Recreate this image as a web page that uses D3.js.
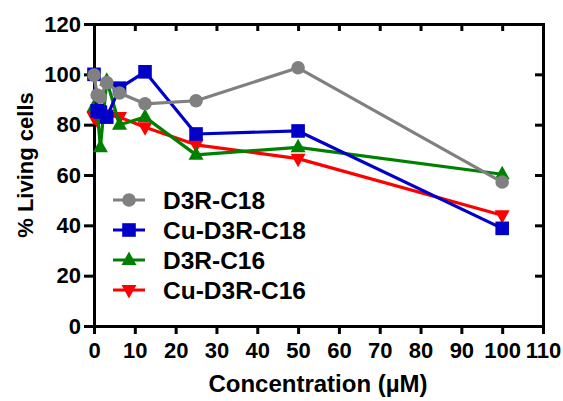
<!DOCTYPE html>
<html lang="en">
<head>
    <title>Living cells vs concentration</title>
    <script src="https://d3js.org/d3.v7.min.js"></script>
    <style>
        body { margin: 0; background: #fff; }
        text { font-family: "Liberation Sans", Arial, sans-serif; font-weight: bold; }
    </style>
</head>
<body>
    <svg width=563 height=401></svg>
</body>
    <script>
    // concentrations (uM)
    const conc = [0, 0.78, 1.56, 3.125, 6.25, 12.5, 25, 50, 100];
    const d3r_c18 = [99.7, 91.8, 90.9, 96.7, 92.6, 88.3, 89.5, 102.6, 57.2];
    const cu_d3r_c18 = [100, 85.5, 85, 83, 94.5, 101, 76.3, 77.5, 38.8];
    const d3r_c16 = [87, 86, 71, 97.5, 80, 83, 68, 71, 60.3];
    const cu_d3r_c16 = [83, 82, 84, 84, 83, 79, 72, 66.5, 44];
    const seriesNames = ["D3R-C18", "Cu-D3R-C18", "D3R-C16", "Cu-D3R-C16"];
    const xTicks = [0, 10, 20, 30, 40, 50, 60, 70, 80, 90, 100, 110];
    const yTicks = [0, 20, 40, 60, 80, 100, 120];

    const colors = ["#808080", "#0000c8", "#008000", "#ff0000"];
    const symbols = ["circle", "square", "up", "down"];
    const series = [d3r_c18, cu_d3r_c18, d3r_c16, cu_d3r_c16].map((vals, i) => ({
        name: seriesNames[i], color: colors[i], sym: symbols[i],
        points: conc.map((c, j) => ({x: c, y: vals[j]}))
    }));

    const svg = d3.select("svg");
    const x = d3.scaleLinear().domain([0, 110]).range([94, 543]);
    const y = d3.scaleLinear().domain([0, 120]).range([326, 24]);

    function styleAxis(g) {
        g.selectAll("path.domain").attr("stroke-width", 3).attr("stroke-linecap", "square");
        g.selectAll(".tick line").attr("stroke-width", 3);
        g.selectAll(".tick text").attr("font-size", 22).attr("fill", "#000");
    }

    // frame (top and right, ticks inward)
    svg.append("g").attr("transform", "translate(0,24)")
        .call(d3.axisTop(x).tickValues(xTicks).tickSize(-7).tickSizeOuter(0).tickFormat(""))
        .call(styleAxis);
    svg.append("g").attr("transform", "translate(543,0)")
        .call(d3.axisRight(y).tickValues(yTicks).tickSize(-8).tickSizeOuter(0).tickFormat(""))
        .call(styleAxis);

    svg.append("g").attr("transform", "translate(0,326)")
        .call(d3.axisBottom(x).tickValues(xTicks).tickSize(8).tickPadding(8).tickSizeOuter(0))
        .call(styleAxis);
    svg.append("g").attr("transform", "translate(94,0)")
        .call(d3.axisLeft(y).tickValues(yTicks).tickSize(10).tickPadding(3).tickSizeOuter(0))
        .call(styleAxis);

    svg.append("text").attr("x", 318).attr("y", 392).attr("text-anchor", "middle")
        .attr("font-size", 24).text("Concentration (µM)");
    svg.append("text").attr("transform", "translate(33,165) rotate(-90)")
        .attr("text-anchor", "middle").attr("font-size", 22).text("% Living cells");

    function marker(sel, sym, color) {
        if (sym === "circle") {
            sel.append("circle").attr("r", 6.8).attr("fill", color);
        } else if (sym === "square") {
            sel.append("rect").attr("x", -6.8).attr("y", -6.8).attr("width", 13.6).attr("height", 13.6).attr("fill", color);
        } else if (sym === "up") {
            sel.append("path").attr("d", "M0,-8.5L7.5,5L-7.5,5Z").attr("fill", color);
        } else {
            sel.append("path").attr("d", "M0,8.5L7.5,-5L-7.5,-5Z").attr("fill", color);
        }
    }

    const line = d3.line().x(d => x(d.x)).y(d => y(d.y));
    // draw last series first so grey ends on top
    series.slice().reverse().forEach(s => {
        svg.append("path").datum(s.points).attr("d", line)
            .attr("fill", "none").attr("stroke", s.color).attr("stroke-width", 3.2)
            .attr("stroke-linejoin", "round");
        svg.selectAll(null).data(s.points).join("g")
            .attr("transform", d => `translate(${x(d.x)},${y(d.y)})`)
            .each(function() { marker(d3.select(this), s.sym, s.color); });
    });

    // legend
    const leg = svg.append("g");
    series.forEach((s, i) => {
        const ly = 200 + i * 30;
        leg.append("line").attr("x1", 113).attr("x2", 145).attr("y1", ly).attr("y2", ly)
            .attr("stroke", s.color).attr("stroke-width", 3);
        marker(leg.append("g").attr("transform", `translate(129,${ly})`), s.sym, s.color);
        leg.append("text").attr("x", 163).attr("y", ly + 8.5).attr("font-size", 24.5).text(s.name);
    });
    </script>
</html>
